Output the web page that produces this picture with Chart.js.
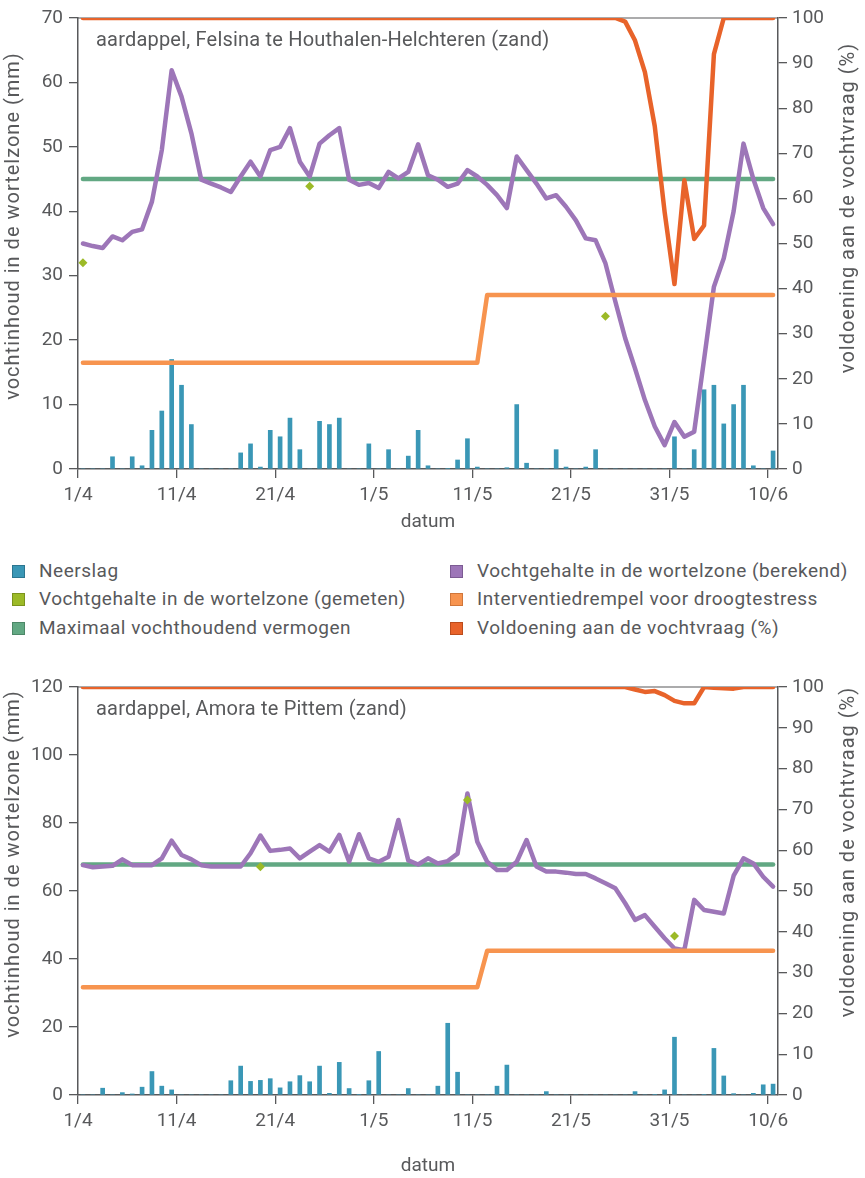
<!DOCTYPE html>
<html>
<head>
<meta charset="utf-8">
<script src="https://cdn.jsdelivr.net/npm/chart.js@4.4.1/dist/chart.umd.min.js"></script>
<style>
body { margin: 0; background: #fff; overflow: hidden; font-family: Roboto, sans-serif; color: #58595b; }
#grafiek1 { position: absolute; left: 0; top: 0; }
#grafiek2 { position: absolute; left: 0; top: 660px; }
.legende { position: absolute; left: 0; top: 556px; width: 865px; height: 90px; font-size: 19px; letter-spacing: 0.5px; }
.legende div { position: absolute; height: 29px; line-height: 29px; white-space: nowrap; }
.legende span { display: inline-block; width: 11px; height: 11px; border: 1px solid; vertical-align: -1px; margin-right: 14px; }
</style>
</head>
<body>
<canvas id="grafiek1" width="865" height="534"></canvas>
<div class="legende">
  <div style="left:12px;top:0"><span style="background:#3a97b6;border-color:#2c7690"></span>Neerslag</div>
  <div style="left:12px;top:28px"><span style="background:#9cba27;border-color:#7b931c"></span>Vochtgehalte in de wortelzone (gemeten)</div>
  <div style="left:12px;top:57px"><span style="background:#62a883;border-color:#4c8767"></span>Maximaal vochthoudend vermogen</div>
  <div style="left:450px;top:0"><span style="background:#9d76b8;border-color:#7c5b93"></span>Vochtgehalte in de wortelzone (berekend)</div>
  <div style="left:450px;top:28px"><span style="background:#f7944f;border-color:#d0763a"></span>Interventiedrempel voor droogtestress</div>
  <div style="left:450px;top:57px"><span style="background:#e8632a;border-color:#bb4c1c"></span>Voldoening aan de vochtvraag (%)</div>
</div>
<canvas id="grafiek2" width="865" height="518"></canvas>
<script>
var tickDagen = [0, 10, 20, 30, 40, 50, 60, 70];
var tickLabels = ['1/4', '11/4', '21/4', '1/5', '11/5', '21/5', '31/5', '10/6'];

// Felsina te Houthalen-Helchteren, een waarde per dag van 1/4 tot 10/6
var neerslag1 = [
    0, 0, 0, 1.9, 0, 1.9, 0.5, 6.0, 9.0, 17.0,
    13.0, 6.9, 0, 0, 0, 0, 2.5, 3.9, 0.3, 6.0,
    5.0, 7.9, 3.0, 0, 7.4, 6.9, 7.9, 0, 0, 3.9,
    0, 3.0, 0, 2.0, 6.0, 0.5, 0, 0.1, 1.4, 4.7,
    0.3, 0, 0, 0.2, 10.0, 0.9, 0, 0, 3.0, 0.3,
    0, 0.3, 3.0, 0, 0, 0, 0, 0, 0, 0,
    5.0, 0, 3.0, 12.3, 13.0, 7.0, 10.0, 13.0, 0.5, 0,
    2.8];
var berekend1 = [
    35.0, 34.6, 34.3, 36.1, 35.5, 36.8, 37.2, 41.5, 49.5, 61.9,
    57.8, 52.1, 44.9, 44.3, 43.7, 43.0, 45.4, 47.7, 45.4, 49.5,
    50.0, 52.9, 47.7, 45.4, 50.5, 51.8, 52.9, 44.9, 44.1, 44.4,
    43.6, 46.1, 45.1, 46.1, 50.4, 45.6, 44.9, 43.8, 44.3, 46.4,
    45.4, 44.1, 42.5, 40.5, 48.5, 46.4, 44.3, 42.0, 42.5, 40.7,
    38.6, 35.8, 35.5, 31.9, 26.0, 20.3, 15.6, 10.7, 6.6, 3.7,
    7.3, 5.0, 5.8, 17.0, 28.3, 32.7, 40.0, 50.5, 45.0, 40.5,
    38.0];
var voldoening1 = [
    100, 100, 100, 100, 100, 100, 100, 100, 100, 100,
    100, 100, 100, 100, 100, 100, 100, 100, 100, 100,
    100, 100, 100, 100, 100, 100, 100, 100, 100, 100,
    100, 100, 100, 100, 100, 100, 100, 100, 100, 100,
    100, 100, 100, 100, 100, 100, 100, 100, 100, 100,
    100, 100, 100, 100, 100, 99.2, 95, 88, 76, 57,
    41, 64, 51, 54, 92, 100, 100, 100, 100, 100,
    100];
var gemetenDagen1 = [0, 23, 53];
var gemeten1 = [32.0, 43.9, 23.7];
var maxVochtDagen1 = [0, 70];
var maxVocht1 = [45, 45];
var drempelDagen1 = [0, 40, 41, 70];
var drempel1 = [16.5, 16.5, 27, 27];

// Amora te Pittem
var neerslag2 = [
    0, 0, 2.0, 0, 0.7, 0.3, 2.3, 6.9, 2.6, 1.5,
    0, 0, 0, 0, 0, 4.2, 8.5, 4.0, 4.3, 4.8,
    2.1, 3.9, 5.7, 3.9, 8.5, 0.5, 9.6, 1.9, 0.2, 4.2,
    12.8, 0, 0, 1.9, 0, 0, 2.6, 21.1, 6.7, 0,
    0, 0, 2.6, 8.8, 0, 0, 0, 1.0, 0, 0,
    0, 0, 0, 0, 0, 0, 1.0, 0, 0.2, 1.5,
    17.0, 0, 0, 0.2, 13.7, 5.6, 0.4, 0, 0.5, 3.0,
    3.2];
var berekend2 = [
    67.6, 67.0, 67.2, 67.4, 69.3, 67.6, 67.6, 67.6, 69.6, 74.8,
    70.6, 69.3, 67.6, 67.2, 67.2, 67.2, 67.2, 71.1, 76.3, 71.8,
    72.1, 72.5, 69.6, 71.6, 73.5, 71.6, 76.5, 68.6, 76.7, 69.6,
    68.6, 70.1, 80.9, 69.0, 67.8, 69.6, 68.1, 68.8, 71.0, 88.7,
    74.5, 68.6, 66.2, 66.2, 68.6, 75.0, 67.2, 65.7, 65.7, 65.4,
    65.0, 65.0, 63.7, 62.3, 60.8, 56.4, 51.5, 52.9, 49.5, 46.1,
    43.1, 42.6, 57.4, 54.4, 53.9, 53.4, 64.5, 69.6, 68.1, 64.2,
    61.3];
var voldoening2 = [
    100, 100, 100, 100, 100, 100, 100, 100, 100, 100,
    100, 100, 100, 100, 100, 100, 100, 100, 100, 100,
    100, 100, 100, 100, 100, 100, 100, 100, 100, 100,
    100, 100, 100, 100, 100, 100, 100, 100, 100, 100,
    100, 100, 100, 100, 100, 100, 100, 100, 100, 100,
    100, 100, 100, 100, 100, 100, 99.4, 98.8, 99.0, 98.0,
    96.6, 96.0, 96.0, 100, 99.8, 99.7, 99.6, 100, 100, 100,
    100];
var gemetenDagen2 = [18, 39, 60];
var gemeten2 = [67.1, 86.8, 46.8];
var maxVochtDagen2 = [0, 70];
var maxVocht2 = [67.8, 67.8];
var drempelDagen2 = [0, 40, 41, 70];
var drempel2 = [31.7, 31.7, 42.4, 42.4];

var kleurTekst = '#58595b';
var lettertype = 'Roboto';

Chart.defaults.font.family = lettertype;
Chart.defaults.color = kleurTekst;

// punten op het midden van elke dag
function perDag(waarden) {
    return waarden.map(function(v, i) { return { x: i + 0.5, y: v }; });
}

function opDagen(dagen, waarden) {
    return dagen.map(function(d, i) { return { x: d + 0.5, y: waarden[i] }; });
}

function lijn(label, data, kleur, as, volgorde) {
    return {
        type: 'line', label: label, data: data, yAxisID: as, order: volgorde,
        borderColor: kleur, borderWidth: 4.5, pointRadius: 0, tension: 0,
        borderJoinStyle: 'round', borderCapStyle: 'round'
    };
}

function asTitel(c, tekst, x, y) {
    c.save();
    c.fillStyle = kleurTekst;
    c.font = '20px ' + lettertype;
    c.letterSpacing = '1px';
    c.textBaseline = 'middle';
    c.textAlign = 'center';
    c.translate(x, y);
    c.rotate(-Math.PI / 2);
    c.fillText(tekst, 0, 0);
    c.restore();
}

function tekenGrafiek(id, opties) {
    var extra = {
        id: 'extra',
        beforeDatasetsDraw: function(chart) {
            var a = chart.chartArea, c = chart.ctx;
            c.save();
            c.strokeStyle = kleurTekst;
            c.lineWidth = 1.2;
            c.beginPath();
            c.moveTo(a.left, a.top);
            c.lineTo(a.right, a.top);
            c.stroke();
            c.restore();
        },
        afterDraw: function(chart) {
            var a = chart.chartArea, c = chart.ctx;
            c.save();
            c.fillStyle = kleurTekst;
            c.font = '20px ' + lettertype;
            c.letterSpacing = '0.2px';
            c.textBaseline = 'middle';
            c.fillText(opties.titel, a.left + 18, a.top + 23);
            c.restore();

            asTitel(c, 'vochtinhoud in de wortelzone (mm)', 14, opties.titelLinks);
            asTitel(c, 'voldoening aan de vochtvraag (%)', 849, opties.titelRechts);
        }
    };

    var asGrid = { drawOnChartArea: false, tickLength: 9, color: kleurTekst, lineWidth: 1.3, offset: false };
    var asRand = { color: kleurTekst, width: 1.5 };
    var tickFont = { size: 19 };

    return new Chart(document.getElementById(id).getContext('2d'), {
        type: 'bar',
        data: {
            datasets: [
                {
                    type: 'bar', label: 'Neerslag', data: perDag(opties.neerslag), yAxisID: 'y', order: 5,
                    backgroundColor: '#3a97b6', barThickness: 4
                },
                lijn('Maximaal vochthoudend vermogen', opDagen(opties.maxDagen, opties.max), '#62a883', 'y', 4),
                lijn('Vochtgehalte in de wortelzone (berekend)', perDag(opties.berekend), '#9d76b8', 'y', 3),
                lijn('Interventiedrempel voor droogtestress', opDagen(opties.drempelDagen, opties.drempel), '#f7944f', 'y', 2),
                lijn('Voldoening aan de vochtvraag (%)', perDag(opties.voldoening), '#e8632a', 'y1', 1),
                {
                    type: 'line', label: 'Vochtgehalte in de wortelzone (gemeten)',
                    data: opDagen(opties.gemetenDagen, opties.gemeten), yAxisID: 'y', order: 0,
                    showLine: false, pointStyle: 'rectRot', pointRadius: 4.5, pointBorderWidth: 0,
                    pointBackgroundColor: '#9cba27', backgroundColor: '#9cba27'
                }
            ]
        },
        options: {
            responsive: false,
            animation: false,
            layout: { padding: { top: opties.boven, left: 0, right: 0, bottom: 0 } },
            plugins: { legend: { display: false }, tooltip: { enabled: false } },
            scales: {
                x: {
                    type: 'linear', min: 0, max: 71, offset: false,
                    grid: asGrid, border: asRand,
                    ticks: {
                        stepSize: 10, includeBounds: false, autoSkip: false, maxRotation: 0,
                        padding: 6, font: tickFont,
                        callback: function(v) { return tickLabels[tickDagen.indexOf(v)]; }
                    },
                    title: { display: true, text: 'datum', font: { size: 19 }, padding: 0 },
                    afterFit: function(s) { s.height = opties.xHoogte; }
                },
                y: {
                    position: 'left', min: 0, max: opties.yMax,
                    grid: asGrid, border: asRand,
                    ticks: { stepSize: opties.yStap, padding: 6, font: tickFont },
                    afterFit: function(s) { s.width = 78; }
                },
                y1: {
                    position: 'right', min: 0, max: 100,
                    grid: asGrid, border: asRand,
                    ticks: { stepSize: 10, padding: 5, font: tickFont },
                    afterFit: function(s) { s.width = 87; }
                }
            }
        },
        plugins: [extra]
    });
}

tekenGrafiek('grafiek1', {
    titel: 'aardappel, Felsina te Houthalen-Helchteren (zand)',
    neerslag: neerslag1, berekend: berekend1, voldoening: voldoening1,
    gemetenDagen: gemetenDagen1, gemeten: gemeten1,
    maxDagen: maxVochtDagen1, max: maxVocht1,
    drempelDagen: drempelDagen1, drempel: drempel1,
    yMax: 70, yStap: 10, boven: 18, xHoogte: 65,
    titelLinks: 226, titelRechts: 208
});

tekenGrafiek('grafiek2', {
    titel: 'aardappel, Amora te Pittem (zand)',
    neerslag: neerslag2, berekend: berekend2, voldoening: voldoening2,
    gemetenDagen: gemetenDagen2, gemeten: gemeten2,
    maxDagen: maxVochtDagen2, max: maxVocht2,
    drempelDagen: drempelDagen2, drempel: drempel2,
    yMax: 120, yStap: 20, boven: 27, xHoogte: 83,
    titelLinks: 204, titelRechts: 192
});
</script>
</body>
</html>
